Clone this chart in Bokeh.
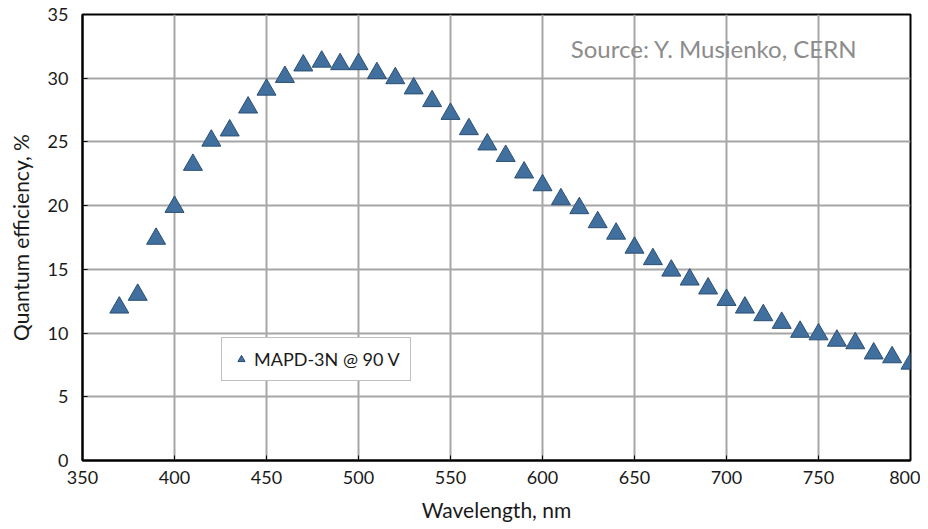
from bokeh.plotting import figure
from bokeh.models import Legend, LegendItem, Label, Range1d, FixedTicker
from bokeh.embed import file_html
from bokeh.resources import INLINE

wavelength = [370, 380, 390, 400, 410, 420, 430, 440, 450, 460, 470, 480, 490, 500,
              510, 520, 530, 540, 550, 560, 570, 580, 590, 600, 610, 620, 630, 640,
              650, 660, 670, 680, 690, 700, 710, 720, 730, 740, 750, 760, 770, 780,
              790, 800]
qe = [12.0, 13.0, 17.4, 19.9, 23.2, 25.1, 25.9, 27.7, 29.1, 30.1, 31.0, 31.3, 31.1, 31.1,
      30.4, 30.0, 29.2, 28.2, 27.2, 26.0, 24.8, 23.9, 22.6, 21.6, 20.5, 19.8, 18.7, 17.8,
      16.7, 15.8, 14.9, 14.2, 13.5, 12.6, 12.0, 11.4, 10.8, 10.1, 9.9, 9.4, 9.2, 8.4,
      8.1, 7.6]
x_ticks = [350, 400, 450, 500, 550, 600, 650, 700, 750, 800]
y_ticks = [0, 5, 10, 15, 20, 25, 30, 35]
series_label = "MAPD-3N @ 90 V"
source_text = "Source: Y. Musienko, CERN"

FONT = "Lato"

p = figure(width=920, height=528,
           output_backend="svg", toolbar_location=None,
           x_range=Range1d(350, 800), y_range=Range1d(0, 35),
           min_border_left=82, min_border_top=14, min_border_right=10, min_border_bottom=68)

p.outline_line_color = "black"
p.outline_line_width = 2
p.background_fill_color = "white"
p.border_fill_color = "white"

for ax, ticks in ((p.xaxis[0], x_ticks), (p.yaxis[0], y_ticks)):
    ax.ticker = FixedTicker(ticks=ticks)
    ax.axis_line_color = "black"
    ax.axis_line_width = 2
    ax.major_tick_in = 5
    ax.major_tick_out = 0
    ax.major_tick_line_color = "black"
    ax.minor_tick_line_color = None
    ax.major_label_text_font = FONT
    ax.major_label_text_font_size = "18px"
    ax.major_label_text_color = "#1a1a1a"
    ax.axis_label_text_font = FONT
    ax.axis_label_text_font_size = "21px"
    ax.axis_label_text_font_style = "normal"
    ax.axis_label_text_color = "#1a1a1a"

p.xaxis.axis_label = "Wavelength, nm"
p.yaxis.axis_label = "Quantum efficiency, %"
p.xaxis.major_label_standoff = 10
p.yaxis.major_label_standoff = 14
p.xaxis.axis_label_standoff = 10
p.yaxis.axis_label_standoff = 12

p.xgrid.ticker = FixedTicker(ticks=x_ticks)
p.ygrid.ticker = FixedTicker(ticks=y_ticks)
for g in (p.xgrid[0], p.ygrid[0]):
    g.grid_line_color = "#a6a6a6"
    g.grid_line_width = 2

r = p.scatter(wavelength, qe, marker="triangle", size=19,
              fill_color="#41709f", line_color="#2b4f74", line_width=1)

legend = Legend(items=[LegendItem(label=series_label, renderers=[r])],
                location=(139, 79), orientation="vertical",
                label_text_font=FONT, label_text_font_size="18px",
                label_text_color="#1a1a1a",
                border_line_color="#808080", border_line_width=1.5,
                background_fill_alpha=1.0,
                glyph_width=18, glyph_height=18, label_standoff=4,
                padding=10, margin=0, spacing=0)
p.add_layout(legend, "center")

p.add_layout(Label(x=775, y=412, x_units="screen", y_units="screen",
                   text=source_text, text_font=FONT, text_font_size="24px",
                   text_color="#8c8c8c", text_align="right", text_baseline="middle"))

open("out.html", "w").write(file_html(p, INLINE))
